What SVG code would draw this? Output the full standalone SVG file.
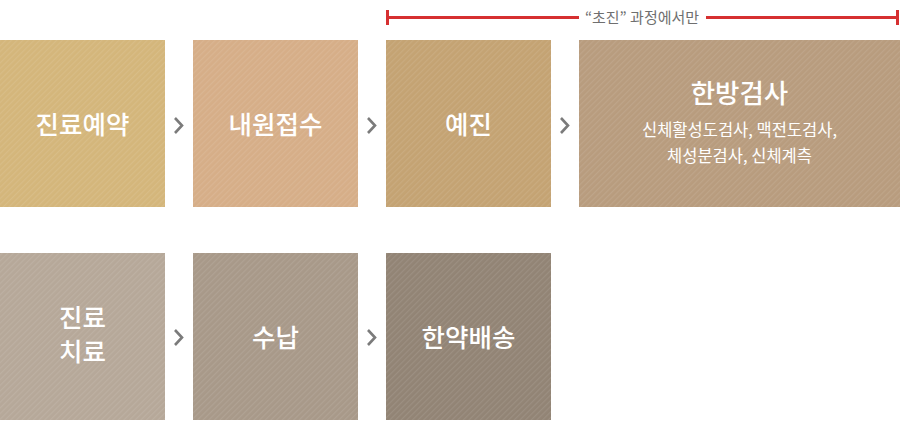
<svg xmlns="http://www.w3.org/2000/svg" width="900" height="431" viewBox="0 0 900 431">
<style>
.t{font-family:"Noto Sans CJK KR","Noto Sans",sans-serif;fill:#fff;text-anchor:middle}
.h{font-size:25.5px;font-weight:500}
.s{font-size:16.5px;font-weight:400}
.chev{fill:none;stroke:#7b7b7b;stroke-width:2.6}
</style>
<defs>
<pattern id="st" width="4" height="4" patternUnits="userSpaceOnUse" patternTransform="rotate(-45)">
<rect width="4" height="1.2" fill="#fff" fill-opacity="0.09"/>
</pattern>
</defs>
<g id="bracket">
<line x1="387" y1="17.5" x2="579" y2="17.5" stroke="#d63031" stroke-width="3"/>
<line x1="706" y1="17.5" x2="898" y2="17.5" stroke="#d63031" stroke-width="3"/>
<rect x="386" y="10" width="3" height="15" fill="#d63031"/>
<rect x="896" y="10" width="3" height="15" fill="#d63031"/>
<text x="642" y="23" font-family="Noto Sans CJK KR, sans-serif" font-size="15" fill="#6f6f6f" text-anchor="middle">“초진” 과정에서만</text>
</g>
<g id="n1"><rect x="0" y="40" width="165" height="167" fill="#d4b67b"/><rect x="0" y="40" width="165" height="167" fill="url(#st)"/><text class="t h" x="82.5" y="134">진료예약</text></g>
<g id="n2"><rect x="193" y="40" width="165" height="167" fill="#d6ae88"/><rect x="193" y="40" width="165" height="167" fill="url(#st)"/><text class="t h" x="275.5" y="134">내원접수</text></g>
<g id="n3"><rect x="386" y="40" width="165" height="167" fill="#c4a373"/><rect x="386" y="40" width="165" height="167" fill="url(#st)"/><text class="t h" x="468.5" y="134">예진</text></g>
<g id="n4"><rect x="579" y="40" width="321" height="167" fill="#b89c7e"/><rect x="579" y="40" width="321" height="167" fill="url(#st)"/><text class="t" x="739.5" y="103" font-size="26.5" font-weight="500">한방검사</text><text class="t s" x="739.5" y="136">신체활성도검사, 맥전도검사,</text><text class="t s" x="739.5" y="162">체성분검사, 신체계측</text></g>
<g id="n5"><rect x="0" y="253" width="165" height="167" fill="#b6a899"/><rect x="0" y="253" width="165" height="167" fill="url(#st)"/><text class="t h" x="82.5" y="327">진료</text><text class="t h" x="82.5" y="361">치료</text></g>
<g id="n6"><rect x="193" y="253" width="165" height="167" fill="#a89989"/><rect x="193" y="253" width="165" height="167" fill="url(#st)"/><text class="t h" x="275.5" y="347">수납</text></g>
<g id="n7"><rect x="386" y="253" width="165" height="167" fill="#928475"/><rect x="386" y="253" width="165" height="167" fill="url(#st)"/><text class="t h" x="468.5" y="347">한약배송</text></g>
<g id="connectors">
<polyline class="chev" points="175,118 182,125.5 175,133"/>
<polyline class="chev" points="368,118 375,125.5 368,133"/>
<polyline class="chev" points="561,118 568,125.5 561,133"/>
<polyline class="chev" points="175,330 182,337.5 175,345"/>
<polyline class="chev" points="368,330 375,337.5 368,345"/>
</g>
</svg>
